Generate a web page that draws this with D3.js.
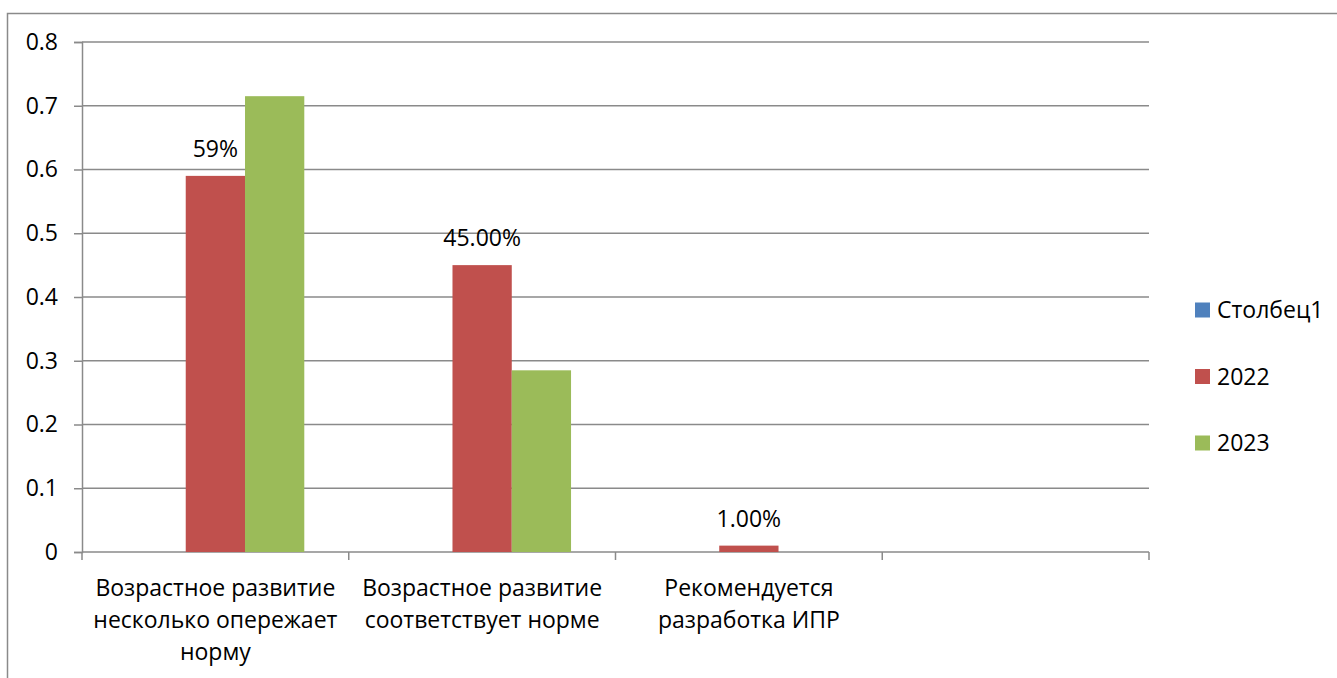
<!DOCTYPE html>
<html>
<head>
<meta charset="utf-8">
<script src="https://cdn.jsdelivr.net/npm/d3@7"></script>
<style>
  body { margin: 0; background: #fff; }
  text { font-family: "Open Sans", sans-serif; fill: #000; }
</style>
</head>
<body>
<script>
let categories = ["Возрастное развитие\nнесколько опережает\nнорму",
                  "Возрастное развитие\nсоответствует норме",
                  "Рекомендуется\nразработка ИПР",
                  ""];
let seriesNames = ["Столбец1", "2022", "2023"];
let values1 = [0, 0, 0, 0];
let values2022 = [0.59, 0.45, 0.01, 0];
let values2023 = [0.715, 0.285, 0, 0];
let labels2022 = ["59%", "45.00%", "1.00%", ""];
let yTicks = [0, 0.1, 0.2, 0.3, 0.4, 0.5, 0.6, 0.7, 0.8];
let colors = ["#4F81BD", "#C0504D", "#9BBB59"];

let width = 1337, height = 678;
let plotLeft = 82, plotRight = 1149, plotTop = 42, plotBottom = 552;
let fontSize = 23;

const svg = d3.select("body")
  .append("svg")
  .attr("width", width)
  .attr("height", height);

// outer frame
svg.append("rect")
  .attr("x", 7.5).attr("y", 13.5)
  .attr("width", width + 20).attr("height", height + 20)
  .attr("fill", "none")
  .attr("stroke", "#8a8a8a")
  .attr("stroke-width", 1.5);

const x = d3.scaleBand()
  .domain(d3.range(categories.length))
  .range([plotLeft, plotRight])
  .padding(0);

const xs = d3.scaleBand()
  .domain(seriesNames)
  .range([0, x.bandwidth()])
  .paddingInner(0)
  .paddingOuter(0.75);

const y = d3.scaleLinear()
  .domain([0, 0.8])
  .range([plotBottom, plotTop]);

// gridlines
svg.selectAll("line.grid")
  .data(yTicks.filter(d => d > 0))
  .enter()
  .append("line")
  .attr("class", "grid")
  .attr("x1", plotLeft).attr("x2", plotRight)
  .attr("y1", d => y(d)).attr("y2", d => y(d))
  .attr("stroke", "#8a8a8a")
  .attr("stroke-width", 1.5);

// y axis
const yAxis = svg.append("g")
  .attr("transform", "translate(" + plotLeft + ",0)")
  .call(d3.axisLeft(y).tickValues(yTicks).tickSize(8).tickPadding(16)
    .tickFormat(d => d === 0 ? "0" : d3.format(".1f")(d)));
yAxis.select(".domain").attr("stroke", "#8a8a8a").attr("stroke-width", 1.5);
yAxis.selectAll(".tick line").attr("stroke", "#8a8a8a").attr("stroke-width", 1.5);
yAxis.selectAll(".tick text")
  .attr("font-size", fontSize)
  .attr("font-family", "Open Sans, sans-serif")
  .attr("fill", "#000");

// x axis
const xTicks = d3.range(categories.length + 1).map(i => plotLeft + i * x.bandwidth());
svg.append("line")
  .attr("x1", plotLeft).attr("x2", plotRight)
  .attr("y1", plotBottom).attr("y2", plotBottom)
  .attr("stroke", "#8a8a8a")
  .attr("stroke-width", 1.5);
svg.selectAll("line.xtick")
  .data(xTicks)
  .enter()
  .append("line")
  .attr("class", "xtick")
  .attr("x1", d => d).attr("x2", d => d)
  .attr("y1", plotBottom).attr("y2", plotBottom + 8)
  .attr("stroke", "#8a8a8a")
  .attr("stroke-width", 1.5);

// category labels
const catLabels = svg.selectAll("text.cat")
  .data(categories)
  .enter()
  .append("text")
  .attr("class", "cat")
  .attr("text-anchor", "middle")
  .attr("font-size", fontSize)
  .attr("transform", (d, i) => "translate(" + (x(i) + x.bandwidth() / 2) + "," + 596 + ")");
catLabels.selectAll("tspan")
  .data(d => d.split("\n").filter(s => s.length))
  .enter()
  .append("tspan")
  .attr("x", 0)
  .attr("y", (d, i) => i * 32)
  .text(d => d);

// bars
let seriesData = [values1, values2022, values2023];
seriesData.forEach(function(vals, s) {
  svg.selectAll("rect.s" + s)
    .data(vals)
    .enter()
    .append("rect")
    .attr("class", "s" + s)
    .attr("x", (d, i) => x(i) + xs(seriesNames[s]))
    .attr("y", d => y(d))
    .attr("width", xs.bandwidth())
    .attr("height", d => plotBottom - y(d))
    .attr("fill", colors[s]);
});

// data labels for 2022
svg.selectAll("text.vlabel")
  .data(labels2022)
  .enter()
  .append("text")
  .attr("class", "vlabel")
  .attr("text-anchor", "middle")
  .attr("font-size", fontSize)
  .attr("x", (d, i) => x(i) + xs("2022") + xs.bandwidth() / 2)
  .attr("y", (d, i) => y(values2022[i]) - 19)
  .text(d => d);

// legend
const legend = svg.selectAll("g.legend")
  .data(seriesNames)
  .enter()
  .append("g")
  .attr("class", "legend")
  .attr("transform", (d, i) => "translate(1195," + (310 + i * 66.5) + ")");
legend.append("rect")
  .attr("x", 0).attr("y", -7.5)
  .attr("width", 15).attr("height", 15)
  .attr("fill", (d, i) => colors[i]);
legend.append("text")
  .attr("x", 22)
  .attr("y", 8)
  .attr("font-size", fontSize)
  .text(d => d);
</script>
</body>
</html>
